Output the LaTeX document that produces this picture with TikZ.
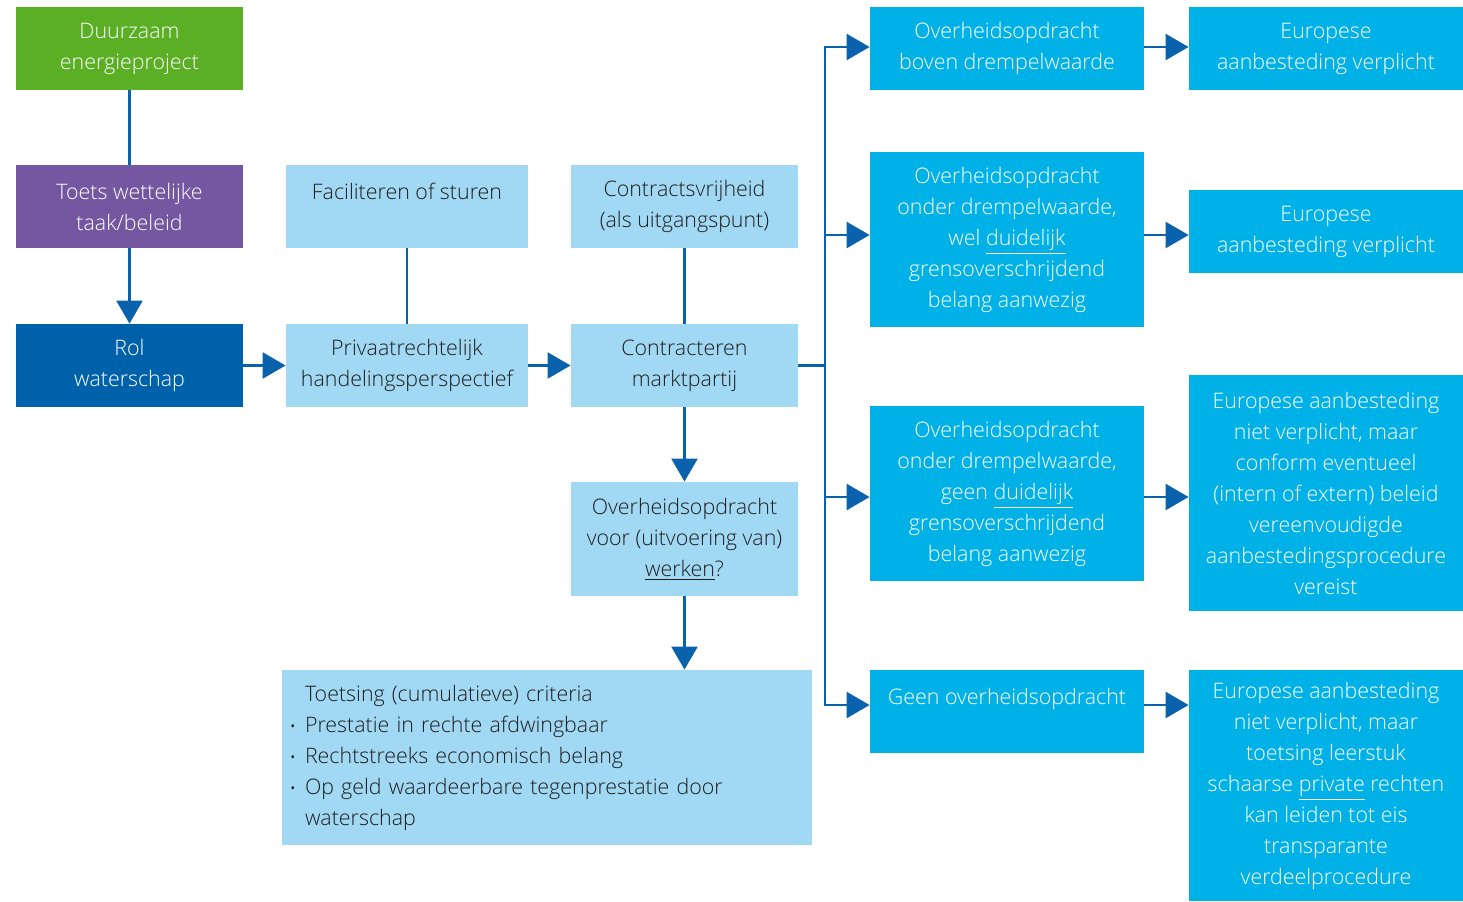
\documentclass[tikz,border=0pt]{standalone}
\usepackage{fontspec}
\setmainfont{Open Sans Light}
\usetikzlibrary{arrows.meta}

\definecolor{groen}{HTML}{5BAF24}
\definecolor{paars}{HTML}{7457A0}
\definecolor{donkerblauw}{HTML}{0061AB}
\definecolor{lichtblauw}{HTML}{A1D8F4}
\definecolor{cyaan}{HTML}{00B1E7}
\definecolor{pijlblauw}{HTML}{0B62AC}
\definecolor{donkertekst}{HTML}{1E1E1E}

\newcommand\opsom{\makebox[0pt][r]{\scalebox{0.8}{\textbullet}\hspace{4.5pt}}}

\tikzset{
  blok/.style={rectangle, inner sep=0pt, align=center,
    font=\fontsize{10.7pt}{15.5pt}\selectfont},
  licht/.style={blok, fill=lichtblauw, text=donkertekst},
  fel/.style={blok, fill=cyaan, text=white},
  lijn/.style={draw=pijlblauw, line width=1.25pt},
  pijl/.style={lijn, -{Triangle[length=11.5pt,width=13pt]}},
}

\begin{document}
\begin{tikzpicture}[x=0.5pt, y=-0.5pt]
  \useasboundingbox (0,0) rectangle (1463,901);

  % Linker kolom
  \node[blok, fill=groen, text=white, minimum width=113.5pt, minimum height=41.5pt]
    (energie) at (129.5,48.5) {Duurzaam\\energieproject};
  \node[blok, fill=paars, text=white, minimum width=113.5pt, minimum height=41.5pt]
    (toets) at (129.5,206.5) {Toets wettelijke\\taak/beleid};
  \node[blok, fill=donkerblauw, text=white, minimum width=113.5pt, minimum height=41.5pt]
    (rol) at (129.5,365.5) {Rol\\waterschap};

  % Privaatrechtelijk spoor
  \node[licht, minimum width=121pt, minimum height=41.5pt]
    (faciliteren) at (407,206.5) {Faciliteren of sturen\\\mbox{}};
  \node[licht, minimum width=121pt, minimum height=41.5pt]
    (privaat) at (407,365.5) {Privaatrechtelijk\\handelingsperspectief};
  \node[licht, minimum width=113.5pt, minimum height=41.5pt]
    (vrijheid) at (684.5,206.5) {Contractsvrijheid\\(als uitgangspunt)};
  \node[licht, minimum width=113.5pt, minimum height=41.5pt]
    (contracteren) at (684.5,365.5) {Contracteren\\marktpartij};
  \node[licht, minimum width=113.5pt, minimum height=57pt]
    (werken) at (684.5,539) {Overheidsopdracht\\voor (uitvoering van)\\\underline{werken}?};
  \node[licht, align=left, inner xsep=11.5pt, text width=242pt, minimum height=87.5pt]
    (toetsing) at (547,757.5) {Toetsing (cumulatieve) criteria\\
      \opsom Prestatie in rechte afdwingbaar\\
      \opsom Rechtstreeks economisch belang\\
      \opsom Op geld waardeerbare tegenprestatie door\\
      waterschap};

  % Soorten opdrachten
  \node[fel, minimum width=137pt, minimum height=41.5pt]
    (boven) at (1007,48.5) {Overheidsopdracht\\boven drempelwaarde};
  \node[fel, minimum width=137pt, minimum height=87.5pt]
    (wel) at (1007,239.5) {Overheidsopdracht\\onder drempelwaarde,\\wel \underline{duidelijk}\\grensoverschrijdend\\belang aanwezig};
  \node[fel, minimum width=137pt, minimum height=87.5pt]
    (geen) at (1007,493.5) {Overheidsopdracht\\onder drempelwaarde,\\geen \underline{duidelijk}\\grensoverschrijdend\\belang aanwezig};
  \node[fel, minimum width=137pt, minimum height=41.5pt]
    (geenoo) at (1007,711.5) {Geen overheidsopdracht\\\mbox{}};

  % Gevolgen
  \node[fel, minimum width=137pt, minimum height=41.5pt]
    (eur1) at (1326,48.5) {Europese\\aanbesteding verplicht};
  \node[fel, minimum width=137pt, minimum height=41.5pt]
    (eur2) at (1326,231.5) {Europese\\aanbesteding verplicht};
  \node[fel, minimum width=137pt, minimum height=118pt]
    (eur3) at (1326,493) {Europese aanbesteding\\niet verplicht, maar\\conform eventueel\\(intern of extern) beleid\\vereenvoudigde\\aanbestedingsprocedure\\vereist};
  \node[fel, minimum width=137pt, minimum height=115.5pt]
    (eur4) at (1326,785.5) {Europese aanbesteding\\niet verplicht, maar\\toetsing leerstuk\\schaarse \underline{private} rechten\\kan leiden tot eis\\transparante\\verdeelprocedure};

  % Verbindingen
  \draw[lijn] (energie) -- (toets);
  \draw[pijl] (toets) -- (rol);
  \draw[pijl] (rol) -- (privaat);
  \draw[lijn] (faciliteren) -- (privaat);
  \draw[pijl] (privaat) -- (contracteren);
  \draw[lijn] (vrijheid) -- (contracteren);
  \draw[pijl] (contracteren) -- (werken);
  \draw[pijl] (werken) -- (werken |- toetsing.north);

  % Verdeelleiding
  \coordinate (splits) at (825,365.5);
  \coordinate (b1) at (825,47);
  \coordinate (b2) at (825,235);
  \coordinate (b3) at (825,497);
  \coordinate (b4) at (825,705);
  \draw[lijn] (contracteren.east) -- (splits);
  \draw[pijl] (b4) -- (b1) -- (boven.west |- b1);
  \draw[pijl] (b1) -- (b4) -- (geenoo.west |- b4);
  \draw[pijl] (b2) -- (wel.west |- b2);
  \draw[pijl] (b3) -- (geen.west |- b3);

  \draw[pijl] (boven.east |- b1) -- (eur1.west |- b1);
  \draw[pijl] (wel.east |- b2) -- (eur2.west |- b2);
  \draw[pijl] (geen.east |- b3) -- (eur3.west |- b3);
  \draw[pijl] (geenoo.east |- b4) -- (eur4.west |- b4);
\end{tikzpicture}
\end{document}
